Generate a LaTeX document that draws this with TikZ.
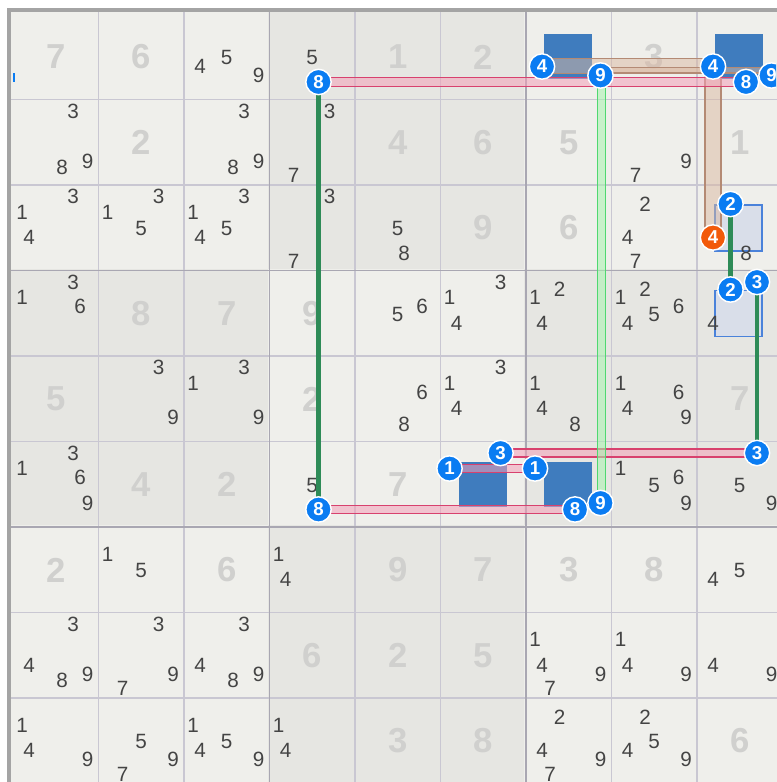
\documentclass[tikz,border=0pt]{standalone}
\usepackage{fontspec}
\setmainfont{Liberation Sans}
\pgfdeclarelayer{bg}\pgfdeclarelayer{lk}\pgfsetlayers{bg,lk,main}
\definecolor{cellA}{HTML}{EFEFEB}
\definecolor{cellB}{HTML}{E6E6E2}
\definecolor{thinc}{HTML}{C9C7D2}
\definecolor{thickc}{HTML}{A9A7B2}
\definecolor{framec}{HTML}{A4A4A4}
\definecolor{pencil}{HTML}{444444}
\definecolor{givencol}{HTML}{D0D0CE}
\definecolor{candblue}{HTML}{0A7CF2}
\definecolor{candorange}{HTML}{F25A0A}
\definecolor{rectdark}{HTML}{3F7CBE}
\definecolor{rectlight}{HTML}{D9DEE9}
\definecolor{rectedge}{HTML}{4A82DA}
\definecolor{linkred}{HTML}{D8416E}
\definecolor{pinkF}{RGB}{244,159,184}
\definecolor{linkbrown}{HTML}{B48A74}
\definecolor{brownF}{RGB}{219,184,161}
\definecolor{strongc}{HTML}{2E8B57}
\definecolor{lgline}{HTML}{4FD870}
\definecolor{greenF}{RGB}{169,244,176}
\tikzset{
 pm/.style={inner sep=0pt, text=pencil, font=\fontsize{15.5}{16}\selectfont},
 given/.style={inner sep=0pt, text=givencol, font=\fontsize{26}{28}\selectfont\bfseries},
 cand/.style={circle, fill=candblue, draw=white, line width=1.1pt, minimum size=19pt, inner sep=0pt, text=white, font=\fontsize{14}{14}\selectfont\bfseries},
 candO/.style={cand, fill=candorange},
 hidebox/.style={fill=rectdark},
 markbox/.style={fill=rectlight, draw=rectedge, line width=0.9pt},
 pinkfill/.style={fill=pinkF, fill opacity=0.55},
 pinkline/.style={draw=linkred, line width=0.9pt},
 brownfill/.style={fill=brownF, fill opacity=0.5},
 brownline/.style={draw=linkbrown, line width=0.9pt},
 greenfill/.style={fill=greenF, fill opacity=0.55},
 greenline/.style={draw=lgline, line width=1.1pt},
 strongline/.style={draw=strongc, line width=3.4pt},
 thinline/.style={draw=thinc, line width=1.1pt},
 thickline/.style={draw=thickc, line width=1.4pt},
}
% #1 style prefix, #2 from node, #3 to node, #4 half width, #5 offset of the centre line
\newcommand\hlink[5]{%
 \fill[#1fill] ([yshift=#5+#4]#2.center) rectangle ([yshift=#5-#4]#3.center);
 \draw[#1line] ([yshift=#5+#4]#2.center) -- ([yshift=#5+#4]#3.center);
 \draw[#1line] ([yshift=#5-#4]#2.center) -- ([yshift=#5-#4]#3.center);}
\newcommand\vlink[5]{%
 \fill[#1fill] ([xshift=#5+#4]#2.center) rectangle ([xshift=#5-#4]#3.center);
 \draw[#1line] ([xshift=#5+#4]#2.center) -- ([xshift=#5+#4]#3.center);
 \draw[#1line] ([xshift=#5-#4]#2.center) -- ([xshift=#5-#4]#3.center);}
\begin{document}
\begin{tikzpicture}[x=0.75pt,y=-0.75pt]
\useasboundingbox (0,0) rectangle (776,782);
\clip (0,0) rectangle (776,782);
% spot coordinates
\foreach \r in {0,...,8}{\foreach \c in {0,...,8}{\foreach \d in {1,...,9}{
 \pgfmathsetmacro\dx{{9,33.5,60,16,42.5,67,24,49,74.5}[\d-1]}
 \pgfmathsetmacro\dy{{27,19,11.5,52.5,43.5,36,76,68,61.5}[\d-1]}
 \coordinate (s-\r-\c-\d) at ({13+85.5*\c+\dx},{14+85.5*\r+\dy});
}}}
\begin{pgfonlayer}{bg}
\fill[white] (0,0) rectangle (776,782);
\foreach \br in {0,1,2}{\foreach \bc in {0,1,2}{
 \pgfmathtruncatemacro\odd{mod(\br+\bc,2)}
 \ifnum\odd=1 \def\cc{cellB}\else\def\cc{cellA}\fi
 \fill[\cc] ({11+256.5*\bc},{12+256.5*\br}) rectangle ++(258.5,258.5);
}}
\foreach \k in {1,2,4,5,7,8}{
 \draw[thinline] ({13+85.5*\k},12) -- ({13+85.5*\k},800);
 \draw[thinline] (11,{14+85.5*\k}) -- (800,{14+85.5*\k});
}
\foreach \k in {3,6}{
 \draw[thickline] ({13+85.5*\k},12) -- ({13+85.5*\k},800);
 \draw[thickline] (11,{14+85.5*\k}) -- (800,{14+85.5*\k});
}
\draw[draw=framec, line width=3pt] (8.5,800) -- (8.5,10) -- (800,10);
% boxes
\foreach \r/\c in {0/6,0/8,5/5,5/6}{
 \fill[hidebox] ({13+85.5*\c+18},{14+85.5*\r+20}) rectangle ++(48,45);
}
\foreach \r/\c in {2/8,3/8}{
 \filldraw[markbox] ({13+85.5*\c+18},{14+85.5*\r+20}) rectangle ++(47,46);
}
\fill[candblue] (12.5,73) rectangle (14.5,82);
% pencil marks
\foreach \r/\c/\ds in {0/2/{4,5,9}, 0/3/{5},
 1/0/{3,8,9}, 1/2/{3,8,9}, 1/3/{3,7}, 1/7/{7,9},
 2/0/{1,3,4}, 2/1/{1,3,5}, 2/2/{1,3,4,5}, 2/3/{3,7}, 2/4/{5,8}, 2/7/{2,4,7}, 2/8/{8},
 3/0/{1,3,6}, 3/4/{5,6}, 3/5/{1,3,4}, 3/6/{1,2,4}, 3/7/{1,2,4,5,6}, 3/8/{4},
 4/1/{3,9}, 4/2/{1,3,9}, 4/4/{6,8}, 4/5/{1,3,4}, 4/6/{1,4,8}, 4/7/{1,4,6,9},
 5/0/{1,3,6,9}, 5/3/{5}, 5/7/{1,5,6,9}, 5/8/{5,9},
 6/1/{1,5}, 6/3/{1,4}, 6/8/{4,5},
 7/0/{3,4,8,9}, 7/1/{3,7,9}, 7/2/{3,4,8,9}, 7/6/{1,4,7,9}, 7/7/{1,4,9}, 7/8/{4,9},
 8/0/{1,4,9}, 8/1/{5,7,9}, 8/2/{1,4,5,9}, 8/3/{1,4}, 8/6/{2,4,7,9}, 8/7/{2,4,5,9}}{
 \foreach \d in \ds {\node[pm] (pm-\r-\c-\d) at (s-\r-\c-\d) {\d};}
}
% givens
\foreach \r/\c/\v in {0/0/7, 0/1/6, 0/4/1, 0/5/2, 0/7/3,
 1/1/2, 1/4/4, 1/5/6, 1/6/5, 1/8/1, 2/5/9, 2/6/6,
 3/1/8, 3/2/7, 3/3/9, 4/0/5, 4/3/2, 4/8/7, 5/1/4, 5/2/2, 5/4/7,
 6/0/2, 6/2/6, 6/4/9, 6/5/7, 6/6/3, 6/7/8, 7/3/6, 7/4/2, 7/5/5,
 8/4/3, 8/5/8, 8/8/6}{
 \node[given] (g-\r-\c) at ({13+85.5*\c+42.75},{14+85.5*\r+43}) {\v};
}
\end{pgfonlayer}
% candidate circles
\node[cand] (n8a) at (s-0-3-8) {8};
\node[cand] (n4a) at (s-0-6-4) {4};
\node[cand] (n9a) at (s-0-6-9) {9};
\node[cand] (n4b) at (s-0-8-4) {4};
\node[cand] (n8b) at (s-0-8-8) {8};
\node[cand] (n9b) at (s-0-8-9) {9};
\node[cand] (n2a) at (s-2-8-2) {2};
\node[candO] (o4) at (s-2-8-4) {4};
\node[cand] (n2b) at (s-3-8-2) {2};
\node[cand] (n3a) at (s-3-8-3) {3};
\node[cand] (n3b) at (s-5-8-3) {3};
\node[cand] (n3c) at (s-5-5-3) {3};
\node[cand] (n1a) at (s-5-5-1) {1};
\node[cand] (n1b) at (s-5-6-1) {1};
\node[cand] (n8c) at (s-5-6-8) {8};
\node[cand] (n9c) at (s-5-6-9) {9};
\node[cand] (n8d) at (s-5-3-8) {8};
\begin{pgfonlayer}{lk}
\hlink{brown}{n4a}{n4b}{5.8pt}{0.3pt}
\hlink{brown}{n9a}{n9b}{2.2pt}{4.1pt}
\vlink{brown}{n4b}{o4}{6pt}{0pt}
\hlink{pink}{n8a}{n8b}{3.3pt}{0pt}
\hlink{pink}{n3c}{n3b}{3pt}{0pt}
\hlink{pink}{n1a}{n1b}{2.8pt}{0pt}
\hlink{pink}{n8d}{n8c}{3.2pt}{0pt}
\vlink{green}{n9a}{n9c}{3pt}{0.8pt}
\draw[strongline] (n8a.center) -- (n8d.center);
\draw[strongline] (n2a.center) -- (n2b.center);
\draw[strongline] (n3a.center) -- (n3b.center);
\end{pgfonlayer}
\end{tikzpicture}
\end{document}
